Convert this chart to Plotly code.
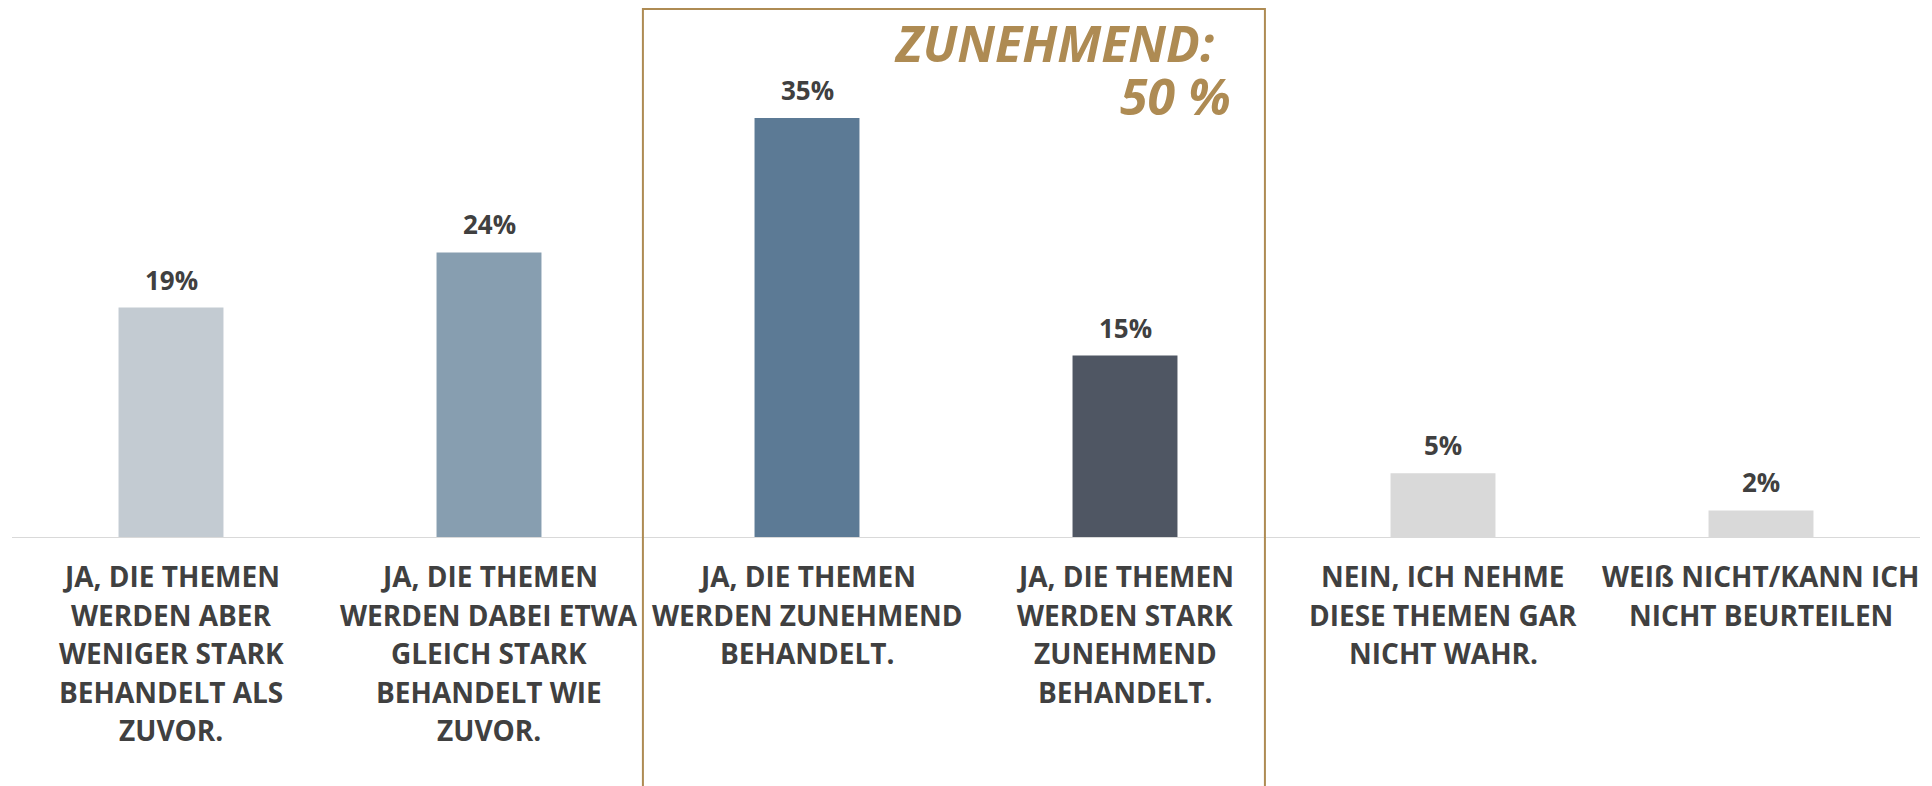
import plotly.graph_objects as go

categories = [
    "JA, DIE THEMEN<br>WERDEN ABER<br>WENIGER STARK<br>BEHANDELT ALS<br>ZUVOR.",
    "JA, DIE THEMEN<br>WERDEN DABEI ETWA<br>GLEICH STARK<br>BEHANDELT WIE<br>ZUVOR.",
    "JA, DIE THEMEN<br>WERDEN ZUNEHMEND<br>BEHANDELT.",
    "JA, DIE THEMEN<br>WERDEN STARK<br>ZUNEHMEND<br>BEHANDELT.",
    "NEIN, ICH NEHME<br>DIESE THEMEN GAR<br>NICHT WAHR.",
    "WEIß NICHT/KANN ICH<br>NICHT BEURTEILEN",
]
values = [19.2, 23.8, 35.0, 15.2, 5.4, 2.3]
value_labels = ["19%", "24%", "35%", "15%", "5%", "2%"]
bar_colors = ["#C3CBD2", "#879EB0", "#5C7A95", "#4F5663", "#D9D9D9", "#D9D9D9"]

highlight_title = "ZUNEHMEND:"
highlight_value = "50 %"

gold = "#AE8B53"
dark = "#404040"

xpos = list(range(len(categories)))

fig = go.Figure()
fig.add_trace(go.Bar(
    x=xpos,
    y=values,
    marker=dict(color=bar_colors, line=dict(width=0)),
    width=0.33,
    hoverinfo="skip",
))

# value labels above bars
for xi, v, lab in zip(xpos, values, value_labels):
    fig.add_annotation(x=xi, y=v, xref="x", yref="y", text=lab, showarrow=False,
                       xanchor="center", yanchor="bottom", yshift=8,
                       font=dict(family="Open Sans", size=26, color=dark, weight="bold"))

# category labels (one line per annotation for the wider line spacing)
for xi, cat in zip(xpos, categories):
    for k, line in enumerate(cat.split("<br>")):
        fig.add_annotation(x=xi, y=0, xref="x", yref="paper", text=line, showarrow=False,
                           xanchor="center", yanchor="middle", yshift=-(38 + 38.5 * k),
                           font=dict(family="Open Sans", size=28, color=dark, weight="bold"))

fig.update_layout(
    width=1932, height=786,
    margin=dict(l=12, r=12, t=58, b=248),
    plot_bgcolor="white", paper_bgcolor="white",
    showlegend=False,
    xaxis=dict(
        range=[-0.5, 5.5],
        showgrid=False, zeroline=False,
        showline=False,
        ticks="",
        showticklabels=False,
    ),
    yaxis=dict(
        range=[0, 40],
        visible=False,
        showgrid=False,
    ),
)

# baseline
fig.add_shape(type="line", xref="x", yref="y", x0=-0.5, x1=5.5, y0=0, y1=0,
              line=dict(color="#D9D9D9", width=2), layer="above")

# highlight box
fig.add_shape(type="rect", xref="x", yref="paper",
              x0=1.484, x1=3.44, y0=-0.55, y1=1.102,
              line=dict(color=gold, width=2), fillcolor="rgba(0,0,0,0)", layer="above")

fig.add_annotation(x=3.287, xref="x", y=1.032, yref="paper",
                   text=f"<i>{highlight_title}</i>", showarrow=False,
                   xanchor="right", yanchor="middle",
                   font=dict(family="Open Sans", size=50, color=gold, weight="bold"))
fig.add_annotation(x=3.34, xref="x", y=0.921, yref="paper",
                   text=f"<i>{highlight_value}</i>", showarrow=False,
                   xanchor="right", yanchor="middle",
                   font=dict(family="Open Sans", size=50, color=gold, weight="bold"))

fig.write_html(
    "out.html",
    config={"displayModeBar": False},
    post_script="document.body.style.margin='0';document.body.style.overflow='hidden';",
)
